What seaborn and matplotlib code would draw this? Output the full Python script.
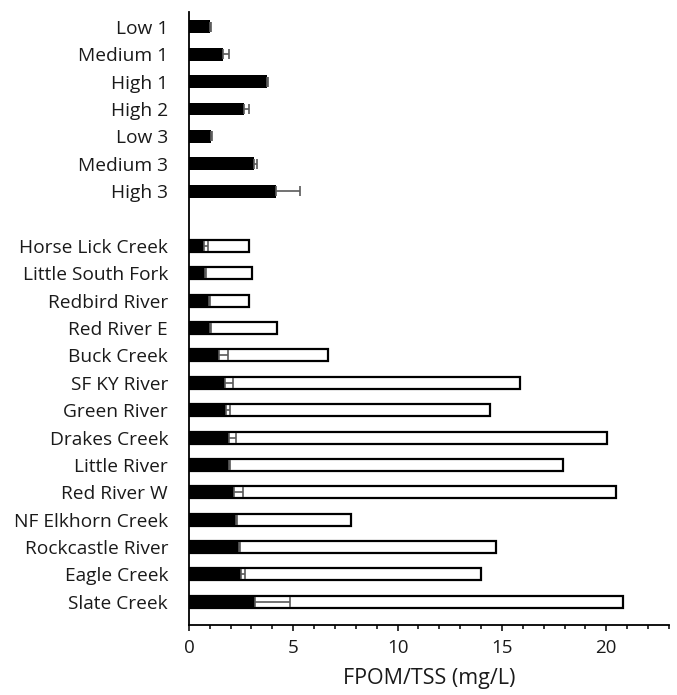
import matplotlib
matplotlib.use("Agg")
import matplotlib.pyplot as plt
from matplotlib.ticker import MultipleLocator
import pandas as pd
import seaborn as sns

# Mesocosm treatments (FPOM only)
treatments = ["Low 1", "Medium 1", "High 1", "High 2", "Low 3", "Medium 3", "High 3"]
treat_fpom = [0.99, 1.63, 3.74, 2.62, 1.07, 3.10, 4.16]
treat_err = [0.05, 0.28, 0.05, 0.28, 0.05, 0.15, 1.18]

# Field streams (FPOM and TSS)
streams = ["Horse Lick Creek", "Little South Fork", "Redbird River", "Red River E",
           "Buck Creek", "SF KY River", "Green River", "Drakes Creek", "Little River",
           "Red River W", "NF Elkhorn Creek", "Rockcastle River", "Eagle Creek",
           "Slate Creek"]
stream_fpom = [0.71, 0.75, 0.96, 1.03, 1.44, 1.71, 1.76, 1.92, 1.92, 2.14, 2.27,
               2.40, 2.51, 3.15]
stream_err = [0.20, 0.08, 0.04, 0.03, 0.43, 0.40, 0.19, 0.32, 0.03, 0.45, 0.03,
              0.03, 0.16, 1.68]
stream_tss = [2.86, 3.01, 2.86, 4.21, 6.67, 15.89, 14.45, 20.05, 17.91, 20.45,
              7.79, 14.71, 13.98, 20.82]

order = treatments + [" "] + streams

fpom_df = pd.DataFrame({"site": treatments + streams,
                        "fpom": treat_fpom + stream_fpom,
                        "err": treat_err + stream_err})
tss_df = pd.DataFrame({"site": streams, "tss": stream_tss})

sns.set_style("white")
plt.rcParams["font.family"] = ["Open Sans", "DejaVu Sans"]

fig = plt.figure(figsize=(6.77, 6.95), dpi=100)
ax = fig.add_axes([0.279, 0.101, 0.709, 0.882])

# TSS as outlined white bars behind
sns.barplot(data=tss_df, x="tss", y="site", order=order, orient="h",
            color="white", saturation=1, width=0.44, edgecolor="black",
            linewidth=1.6, errorbar=None, ax=ax)
# FPOM as solid black bars in front
sns.barplot(data=fpom_df, x="fpom", y="site", order=order, orient="h",
            color="black", saturation=1, width=0.47, linewidth=0,
            errorbar=None, ax=ax)

ypos = [order.index(s) for s in fpom_df["site"]]
ax.errorbar(fpom_df["fpom"], ypos,
            xerr=[[0] * len(fpom_df), fpom_df["err"]],
            fmt="none", ecolor="#5a5a5a", elinewidth=1.2, capsize=3.6,
            capthick=1.2, zorder=5)

ax.set_xlim(0, 23)
ax.set_ylim(21.84, -0.55)
ax.xaxis.set_major_locator(MultipleLocator(5))
ax.xaxis.set_minor_locator(MultipleLocator(1))

for side in ["top", "right"]:
    ax.spines[side].set_visible(False)
for side in ["left", "bottom"]:
    ax.spines[side].set_color("black")
    ax.spines[side].set_linewidth(1.3)

ax.tick_params(axis="x", which="major", direction="out", length=4.5, width=1.1,
               color="black", labelsize=13.5, pad=6, labelcolor="#1a1a1a",
               bottom=True)
ax.tick_params(axis="x", which="minor", direction="out", length=2.8, width=1.1,
               color="black", bottom=True)
ax.tick_params(axis="y", length=0, pad=15, labelsize=13.8, labelcolor="#1a1a1a")

ax.set_ylabel("")
ax.set_xlabel("FPOM/TSS (mg/L)", fontsize=15.5, color="#1a1a1a", labelpad=8)

fig.savefig("out.png", dpi=100)
